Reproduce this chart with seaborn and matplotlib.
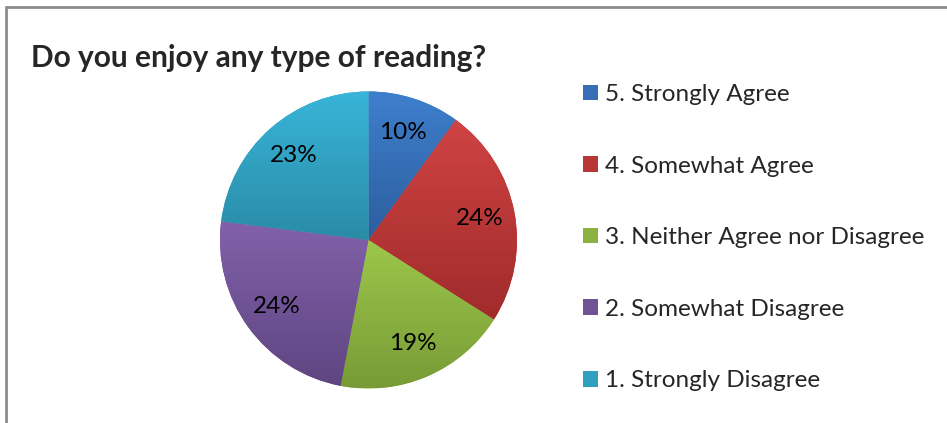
import numpy as np
import matplotlib.pyplot as plt
import matplotlib.colors as mcolors
from matplotlib.patches import Patch
from matplotlib.lines import Line2D
import seaborn as sns

# ------------------------------
# data
# ------------------------------
title = "Do you enjoy any type of reading?"
categories = [
    "5. Strongly Agree",
    "4. Somewhat Agree",
    "3. Neither Agree nor Disagree",
    "2. Somewhat Disagree",
    "1. Strongly Disagree",
]
shares = [10, 24, 19, 24, 23]

# excel-ish gradient colours (top -> bottom of each slice)
top_colors = ["#3e7fcd", "#d04343", "#9dc74b", "#8261aa", "#38b5d9"]
bottom_colors = ["#2d5e9e", "#a02b2b", "#789b36", "#5e4581", "#2a8ba6"]

# ------------------------------
# style
# ------------------------------
sns.set_theme(style="white")
plt.rcParams['font.family'] = ['Lato', 'DejaVu Sans']

W, H = 947, 423
fig = plt.figure(figsize=(W / 100, H / 100), dpi=100)
fig.patch.set_facecolor("white")

# chart frame (only top and left edges show)
fig.add_artist(Line2D([5.5 / W, 5.5 / W], [0, 1 - 7.5 / H], color="#8c8c8c", lw=2))
fig.add_artist(Line2D([5.5 / W, 1], [1 - 7.5 / H, 1 - 7.5 / H], color="#8c8c8c", lw=2))

# ------------------------------
# pie
# ------------------------------
R = 148.5
cx, cy = 368.5, 240
ax = fig.add_axes([(cx - R) / W, (H - cy - R) / H, 2 * R / W, 2 * R / H])

mid_colors = [
    tuple((np.array(mcolors.to_rgb(t)) + np.array(mcolors.to_rgb(b))) / 2)
    for t, b in zip(top_colors, bottom_colors)
]

wedges, texts, autotexts = ax.pie(
    shares,
    colors=mid_colors,
    startangle=90,
    counterclock=False,
    autopct=lambda p: f"{p:.0f}%",
    pctdistance=0.76,
    textprops=dict(fontsize=17.5, color="black"),
    wedgeprops=dict(linewidth=0),
)

# vertical gradient inside each slice
for w, t, b in zip(wedges, top_colors, bottom_colors):
    ext = w.get_path().get_extents()
    c0 = np.array(mcolors.to_rgb(t))
    c1 = np.array(mcolors.to_rgb(b))
    f = np.linspace(0, 1, 256)[:, None, None]
    grad = c0 * (1 - f) + c1 * f
    im = ax.imshow(grad, extent=(ext.x0, ext.x1, ext.y0, ext.y1), origin="upper",
                   aspect="auto", interpolation="bilinear", zorder=w.get_zorder() + 0.1)
    im.set_clip_path(w)

for a in autotexts:
    a.set_zorder(5)

ax.set_xlim(-1, 1)
ax.set_ylim(-1, 1)
ax.axis("off")

# ------------------------------
# title + legend
# ------------------------------
fig.text(31 / W, 1 - 67 / H, title, fontsize=21.5, fontweight="bold", va="baseline")

handles = [Patch(facecolor=c, edgecolor="none") for c in mid_colors]
fig.legend(handles, categories, loc="upper left", bbox_to_anchor=(583 / W, 1 - 84 / H),
           frameon=False, fontsize=17.5, handlelength=0.62, handleheight=0.62,
           handletextpad=0.3, labelspacing=2.08, borderaxespad=0, borderpad=0)

fig.savefig("out.png", dpi=100)
